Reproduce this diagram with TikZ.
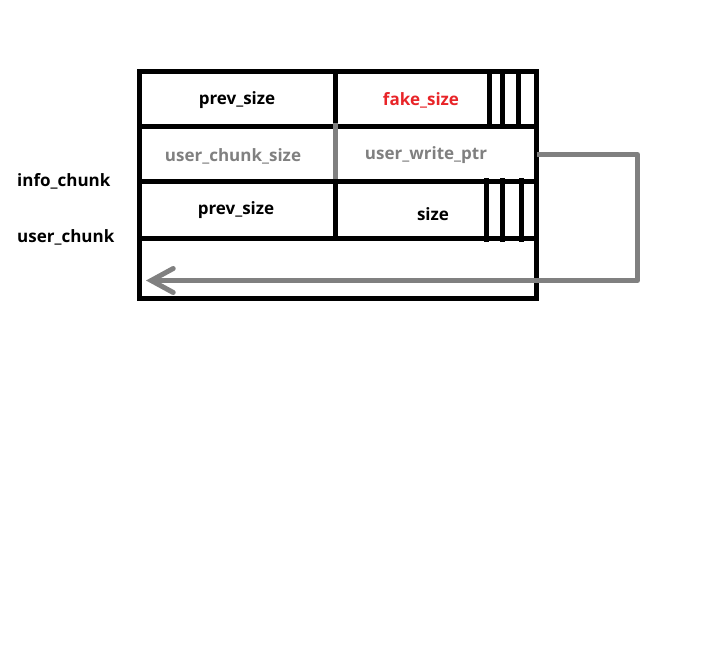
\documentclass[tikz,border=0pt]{standalone}
\usepackage{fontspec}
\setmainfont{Open Sans}
\usepackage{tikz}
\usetikzlibrary{arrows.meta}
\definecolor{darkgray}{RGB}{128, 128, 128}
\definecolor{brightred}{RGB}{232, 36, 40}

\begin{document}
\begin{tikzpicture}[x=1pt, y=-1pt]
    \tikzstyle{box_style} = [line width=5pt, black]
    \tikzstyle{ptr_style} = [line width=5pt, darkgray, line join=round]
    \tikzstyle{field} = [font=\fontsize{17}{20}\selectfont\bfseries, anchor=base, inner sep=0pt]

    \def\xl{139}
    \def\xm{335.5}
    \def\xr{536}

    \useasboundingbox (0,0) rectangle (728,650);

    \begin{scope}
      % chunk rows
      \draw[box_style] (\xl,71.5) rectangle (\xr,298);
      \draw[box_style] (\xl,127) -- (\xr,127);
      \draw[box_style] (\xl,181.5) -- (\xr,181.5);
      \draw[box_style] (\xl,238.5) -- (\xr,238.5);
      \draw[box_style] (\xm,70) -- (\xm,124.5);
      \draw[box_style] (\xm,179) -- (\xm,238.5);
      \draw[ptr_style] (\xm,123) -- (\xm,179);
      % flag bits
      \foreach \x in {489, 502.5, 518.5}
        \draw[box_style] (\x,70) -- (\x,129.5);
      \foreach \x in {486, 502.3, 521}
        \draw[box_style] (\x,178) -- (\x,241.5);
    \end{scope}

    \node[field] (prev_info) at (237,105) {prev\_size};
    \node[field, brightred] (fake_size) at (421,106) {fake\_size};
    \node[field, darkgray] (user_size) at (233,161) {user\_chunk\_size};
    \node[field, darkgray] (write_ptr) at (426,160) {user\_write\_ptr};
    \node[field] (prev_user) at (236,214) {prev\_size};
    \node[field] (size_user) at (433,220) {size};

    \node[field, anchor=base west] (info_chunk) at (17,186) {info\_chunk};
    \node[field, anchor=base west] (user_chunk) at (17,242) {user\_chunk};

    \coordinate (ptr_out) at (537,154.5);
    \coordinate (ptr_turn) at (637.5,280.5);
    \coordinate (ptr_target) at (146,280.5);

    \draw[ptr_style, -{Straight Barb[length=22pt, width=24pt, line cap=round]}] (ptr_out) -| (ptr_turn) -- (ptr_target);
\end{tikzpicture}
\end{document}
